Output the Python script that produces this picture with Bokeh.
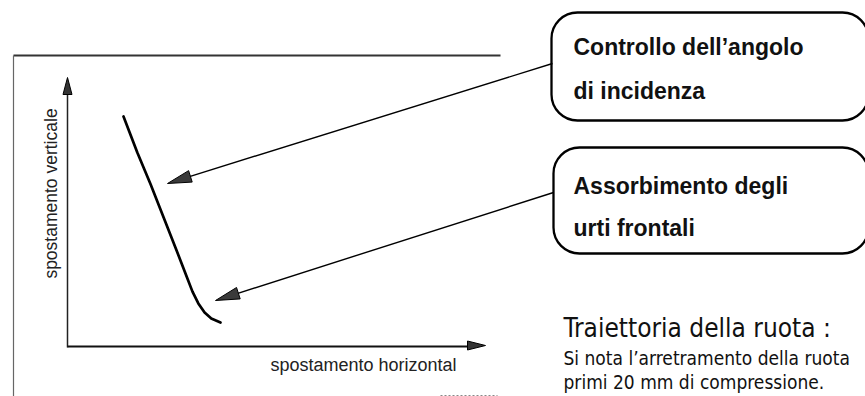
import math
from bokeh.plotting import figure
from bokeh.models import Range1d, BoxAnnotation, Label
from bokeh.embed import file_html
from bokeh.resources import INLINE

# ---------------- data (displacement units, axis length = 100) ----------------
curve_horizontal = [13.4, 16.7, 19.9, 23.0, 26.1, 28.5, 29.9, 31.3, 32.8, 34.4, 36.6]
curve_vertical = [85.5, 72.1, 60.2, 48.0, 35.7, 26.0, 20.4, 16.0, 12.6, 10.4, 8.9]

box_texts = [["Controllo dell\u2019angolo", "di incidenza"],
             ["Assorbimento degli", "urti frontali"]]
x_axis_label = "spostamento horizontal"
y_axis_label = "spostamento verticale"
caption_title = "Traiettoria della ruota :"
caption_lines = ["Si nota l\u2019arretramento della ruota", "primi 20 mm di compressione."]

# ---------------- layout (page pixel coordinates) ----------------
W, H = 865, 396
X0, X1, Y0, Y1 = 0, W, 0, H
ORIG = (67, 346)      # axis origin
XTIP = 485            # x-axis arrow tip
YTIP = 77             # y-axis arrow tip

p = figure(width=W, height=H, output_backend="svg", toolbar_location=None,
           x_range=Range1d(X0, X1), y_range=Range1d(Y1, Y0),
           x_axis_type=None, y_axis_type=None, min_border=0,
           background_fill_color="white", border_fill_color="white")
p.outline_line_color = None
p.xgrid.visible = False
p.ygrid.visible = False

# displacement ranges mapped onto the drawn axes
sx = (XTIP - ORIG[0]) / 100.0
sy = (ORIG[1] - YTIP) / 100.0
p.extra_x_ranges = {"disp": Range1d((X0 - ORIG[0]) / sx, (X1 - ORIG[0]) / sx)}
p.extra_y_ranges = {"disp": Range1d((ORIG[1] - Y1) / sy, (ORIG[1] - Y0) / sy)}

# outer frame (scanned border)
p.line([13, 500], [55, 55], line_color="#333333", line_width=1.8)
p.line([13, 13], [55, 400], line_color="#666666", line_width=1.2)
p.line([440, 497], [395, 395], line_color="#888888", line_width=1.2, line_dash="2 2")


def head(tip, tail, length, half):
    dx, dy = tip[0] - tail[0], tip[1] - tail[1]
    n = math.hypot(dx, dy)
    ux, uy = dx / n, dy / n
    bx, by = tip[0] - ux * length, tip[1] - uy * length
    return ([tip[0], bx - uy * half, bx + uy * half],
            [tip[1], by + ux * half, by - ux * half])


# axes with arrowheads
p.line([ORIG[0], ORIG[0]], [ORIG[1] + 1, YTIP + 10], line_color="#222222", line_width=1.5)
p.line([ORIG[0], XTIP - 10], [ORIG[1], ORIG[1]], line_color="#111111", line_width=1.8)
hx1, hy1 = head((ORIG[0], YTIP), (ORIG[0], ORIG[1]), 17, 4.5)
hx2, hy2 = head((XTIP, ORIG[1] - 1), (ORIG[0], ORIG[1] - 1), 18, 4.5)
p.patches([hx1, hx2], [hy1, hy2], fill_color="#333333", line_color="black", line_width=1)

# wheel trajectory curve
p.line(curve_horizontal, curve_vertical, x_range_name="disp", y_range_name="disp",
       line_color="black", line_width=2.7, line_join="round", line_cap="round")

# pointer arrows from the callouts
arrows = [((552, 63), (167, 183)), ((553, 192), (215, 300))]
hxs, hys = [], []
for tail, tip in arrows:
    p.line([tail[0], tip[0] + 10], [tail[1], tip[1] - 3.2], line_color="black", line_width=1.4)
    xs, ys = head(tip, tail, 24, 6)
    hxs.append(xs)
    hys.append(ys)
p.patches(hxs, hys, fill_color="#3a3a3a", line_color="black", line_width=1)

# callout boxes
boxes = [(551, 868, 12, 120), (553, 868, 147, 253)]
for l, r, t, b in boxes:
    p.add_layout(BoxAnnotation(left=l, right=r, top=t, bottom=b, border_radius=26,
                               fill_alpha=0, line_color="black", line_alpha=1.0,
                               line_width=2.3))

box_font = "Liberation Sans"
baselines = [(46, 90), (185, 227)]
for lines, bl in zip(box_texts, baselines):
    for txt, yb in zip(lines, bl):
        p.add_layout(Label(x=573, y=yb, text=txt, text_font=box_font, text_font_style="bold",
                           text_font_size="23px", text_color="#111111",
                           text_baseline="alphabetic", text_align="left"))

# axis labels
p.add_layout(Label(x=363, y=364, text=x_axis_label, text_font="Liberation Sans",
                   text_font_size="18px", text_color="#222222",
                   text_align="center", text_baseline="middle"))
p.add_layout(Label(x=50, y=193, text=y_axis_label, text_font="Liberation Sans",
                   text_font_size="17.5px", text_color="#222222", angle=math.pi / 2,
                   text_align="center", text_baseline="middle"))

# caption
narrow = "DejaVu Sans Condensed"
p.add_layout(Label(x=563, y=327, text=caption_title, text_font=narrow,
                   text_font_size="26px", text_color="#111111",
                   text_baseline="alphabetic", text_align="left"))
for txt, yb in zip(caption_lines, (357, 381)):
    p.add_layout(Label(x=563, y=yb, text=txt, text_font=narrow,
                       text_font_size="19px", text_color="#111111",
                       text_baseline="alphabetic", text_align="left"))

open("out.html", "w").write(file_html(p, INLINE))
